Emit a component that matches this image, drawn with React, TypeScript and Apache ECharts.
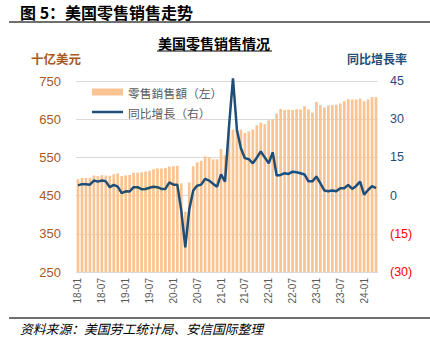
import React, { useEffect, useRef } from "react";
import * as echarts from "echarts";

const categories = [
  "18-01","18-02","18-03","18-04","18-05","18-06","18-07","18-08","18-09","18-10","18-11","18-12",
  "19-01","19-02","19-03","19-04","19-05","19-06","19-07","19-08","19-09","19-10","19-11","19-12",
  "20-01","20-02","20-03","20-04","20-05","20-06","20-07","20-08","20-09","20-10","20-11","20-12",
  "21-01","21-02","21-03","21-04","21-05","21-06","21-07","21-08","21-09","21-10","21-11","21-12",
  "22-01","22-02","22-03","22-04","22-05","22-06","22-07","22-08","22-09","22-10","22-11","22-12",
  "23-01","23-02","23-03","23-04","23-05","23-06","23-07","23-08","23-09","23-10","23-11","23-12",
  "24-01","24-02","24-03","24-04",
];

// 零售銷售額（十亿美元）
const salesValues = [
  493, 496.5, 496.5, 496.5, 502.5, 501, 503.5, 502.5, 502, 506, 508, 501,
  503, 504, 510, 510, 511, 513, 515, 519, 521, 521, 522, 526,
  527, 528, 482, 408, 484, 527, 537, 541, 553, 550, 545, 545,
  572, 555, 619, 623, 621, 623, 614, 618, 623, 634, 641, 637,
  647, 650, 665, 677, 674, 675, 674, 676, 675.5, 684, 675.5, 667.5,
  695.5, 687, 681, 686, 687, 688, 691, 697, 702.5, 701.5, 701.5, 704,
  697, 701.5, 708, 708,
];

// 同比增長（%）
const yoyValues = [
  4.0, 4.5, 4.5, 4.3, 5.9, 5.5, 5.9, 5.6, 3.3, 4.2, 3.5, 1.0,
  1.7, 1.6, 3.3, 3.3, 2.5, 2.6, 3.1, 3.5, 3.3, 2.6, 2.6, 5.2,
  4.3, 4.3, -6.0, -20.3, -5.5, 2.0, 3.9, 4.3, 6.6, 5.9, 4.6, 3.5,
  8.3, 5.5, 27, 46, 25.8, 18.6, 14.7, 14.3, 12.7, 14.9, 17.3, 15,
  12.7, 17, 7.9, 8.1, 8.8, 8.5, 9.4, 9.2, 8.8, 8.3, 5.6, 5.6,
  7.5, 4.8, 2.0, 1.7, 2.0, 1.7, 2.9, 2.9, 4.2, 2.6, 3.8, 5.5,
  0.4, 2.2, 3.7, 2.9,
];

const seriesNames = ["零售銷售額（左）", "同比增長（右）"];
const figureTitle = "图 5：美国零售销售走势";
const chartTitle = "美国零售销售情况";
const leftUnit = "十亿美元";
const rightUnit = "同比增長率";
const sourceText = "资料来源：美国劳工统计局、安信国际整理";

const CJK = '"Noto Sans CJK SC", "Noto Sans CJK TC", sans-serif';
const NUM = '"Liberation Sans", Arial, sans-serif';
const BROWN = "#A8591E";
const BLUE = "#1F4E79";
const BAR = "#F9C491";

export default function App() {
  const ref = useRef<HTMLDivElement>(null);

  useEffect(() => {
    if (!ref.current) return;
    const chart = echarts.init(ref.current, undefined, { renderer: "svg" });
    chart.setOption({
      animation: false,
      backgroundColor: "#ffffff",
      grid: { left: 76, right: 52, top: 81, height: 191, containLabel: false },
      legend: {
        orient: "vertical",
        left: 92,
        top: 85,
        padding: 0,
        itemWidth: 31,
        itemHeight: 7,
        itemGap: 6,
        textStyle: { fontFamily: CJK, fontSize: 11.8, color: "#595959", lineHeight: 14 },
        data: [
          { name: seriesNames[0], icon: "rect" },
          { name: seriesNames[1], icon: "path://M0,0L124,0L124,10L0,10Z", itemStyle: { color: BLUE } },
        ],
      },
      xAxis: {
        type: "category",
        data: categories,
        boundaryGap: true,
        axisTick: { show: false },
        axisLine: { lineStyle: { color: "#d9d9d9" } },
        axisLabel: {
          interval: 5,
          rotate: 90,
          margin: 6,
          fontFamily: NUM,
          fontSize: 10,
          color: "#595959",
        },
      },
      yAxis: [
        {
          type: "value",
          min: 250,
          max: 750,
          interval: 100,
          axisLine: { show: false },
          axisTick: { show: false },
          splitLine: { lineStyle: { color: "#d9d9d9" } },
          axisLabel: { fontFamily: NUM, fontSize: 13, color: BROWN, margin: 15 },
        },
        {
          type: "value",
          min: -30,
          max: 45,
          interval: 15,
          axisLine: { show: false },
          axisTick: { show: false },
          splitLine: { show: false },
          axisLabel: {
            fontFamily: NUM,
            fontSize: 12.5,
            margin: 12,
            formatter: (v: number) => (v < 0 ? `(${Math.abs(v)})` : `${v}`),
            color: (v: any) => (Number(v) < 0 ? "#FF0000" : BLUE),
          },
        },
      ],
      series: [
        {
          name: seriesNames[0],
          type: "bar",
          data: salesValues,
          yAxisIndex: 0,
          barCategoryGap: "32%",
          itemStyle: { color: BAR },
        },
        {
          name: seriesNames[1],
          type: "line",
          data: yoyValues,
          yAxisIndex: 1,
          symbol: "none",
          clip: false,
          lineStyle: { color: BLUE, width: 2.5 },
          itemStyle: { color: BLUE },
        },
      ],
      graphic: [
        {
          type: "text",
          left: 20,
          top: 4,
          style: { text: figureTitle, font: `bold 16px ${CJK}`, fill: "#000" },
        },
        {
          type: "line",
          shape: { x1: 9, y1: 22, x2: 430, y2: 22 },
          style: { stroke: "#404040", lineWidth: 1.5 },
        },
        {
          type: "text",
          x: 214,
          y: 43,
          style: {
            text: chartTitle,
            font: `bold 14px ${CJK}`,
            fill: "#000",
            align: "center",
            verticalAlign: "middle",
          },
        },
        {
          type: "line",
          shape: { x1: 157, y1: 51, x2: 272, y2: 51 },
          style: { stroke: "#000", lineWidth: 1 },
        },
        {
          type: "text",
          x: 31,
          y: 58,
          style: { text: leftUnit, font: `bold 12.5px ${CJK}`, fill: BROWN, verticalAlign: "middle" },
        },
        {
          type: "text",
          x: 347,
          y: 58,
          style: { text: rightUnit, font: `bold 12px ${CJK}`, fill: BLUE, verticalAlign: "middle" },
        },
        {
          type: "line",
          shape: { x1: 9, y1: 318, x2: 430, y2: 318 },
          style: { stroke: "#404040", lineWidth: 1.5 },
        },
        {
          type: "text",
          x: 20,
          y: 328,
          style: {
            text: sourceText,
            font: `italic 12.8px ${CJK}`,
            fill: "#000",
            verticalAlign: "middle",
          },
        },
      ],
    });
    return () => chart.dispose();
  }, []);

  return (
    <div
      ref={ref}
      style={{ position: "absolute", left: 0, top: 0, width: 430, height: 353, background: "#fff" }}
    />
  );
}
